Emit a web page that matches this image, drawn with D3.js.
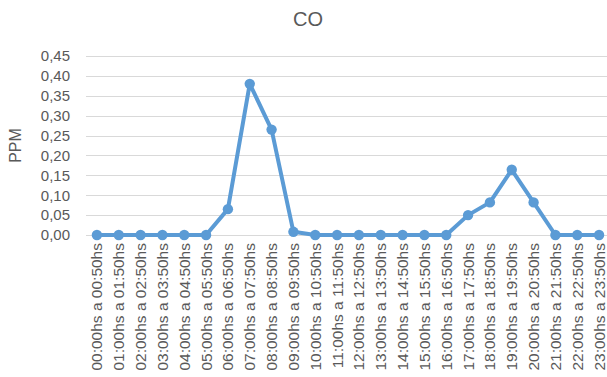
<!DOCTYPE html>
<html>
<head>
<meta charset="utf-8">
<script src="https://cdn.jsdelivr.net/npm/d3@7/dist/d3.min.js"></script>
<style>
  html, body { margin: 0; padding: 0; background: #fff; }
  svg { display: block; font-family: "Liberation Sans", Arial, sans-serif; }
</style>
</head>
<body>
<svg id="chart" width="607" height="377"></svg>
<script>
const categories = [
  "00:00hs a 00:50hs","01:00hs a 01:50hs","02:00hs a 02:50hs","03:00hs a 03:50hs",
  "04:00hs a 04:50hs","05:00hs a 05:50hs","06:00hs a 06:50hs","07:00hs a 07:50hs",
  "08:00hs a 08:50hs","09:00hs a 09:50hs","10:00hs a 10:50hs","11:00hs a 11:50hs",
  "12:00hs a 12:50hs","13:00hs a 13:50hs","14:00hs a 14:50hs","15:00hs a 15:50hs",
  "16:00hs a 16:50hs","17:00hs a 17:50hs","18:00hs a 18:50hs","19:00hs a 19:50hs",
  "20:00hs a 20:50hs","21:00hs a 21:50hs","22:00hs a 22:50hs","23:00hs a 23:50hs"
];
const coValues = [0, 0, 0, 0, 0, 0, 0.065, 0.38, 0.265, 0.008, 0, 0, 0, 0, 0, 0, 0, 0.05, 0.082, 0.164, 0.082, 0, 0, 0];
const yTicks = [0, 0.05, 0.10, 0.15, 0.20, 0.25, 0.30, 0.35, 0.40, 0.45];
const titleText = "CO";
const yAxisTitle = "PPM";

(function () {
const svg = d3.select("#chart");
const W = 607;
const mLeft = 86, mRight = 610, mTop = 56, mBottom = 235;

const x = d3.scaleBand().domain(categories).range([mLeft, mRight]);
const y = d3.scaleLinear().domain([0, 0.45]).range([mBottom, mTop]);
const fmt = v => d3.format(".2f")(v).replace(".", ",");

// gridlines
svg.append("g").selectAll("line").data(yTicks).join("line")
  .attr("x1", mLeft).attr("x2", W)
  .attr("y1", d => Math.round(y(d)) + 0.5).attr("y2", d => Math.round(y(d)) + 0.5)
  .attr("stroke", "#d9d9d9").attr("stroke-width", 1);

// y axis
const yAxis = d3.axisLeft(y).tickValues(yTicks).tickFormat(fmt).tickSize(0).tickPadding(16);
const gy = svg.append("g").attr("transform", `translate(${mLeft},0)`).call(yAxis);
gy.select(".domain").remove();
gy.selectAll("text").attr("fill", "#595959").style("font-size", "15px")
  .style("font-family", "'Liberation Sans', Arial, sans-serif");

// x axis
const xAxis = d3.axisBottom(x).tickSize(0).tickPadding(0);
const gx = svg.append("g").attr("transform", `translate(0,${mBottom})`).call(xAxis);
gx.select(".domain").remove();
gx.selectAll("text")
  .attr("fill", "#595959").style("font-size", "15.5px")
  .style("font-family", "'Liberation Sans', Arial, sans-serif")
  .attr("text-anchor", "end")
  .attr("x", 0).attr("y", 0)
  .attr("dy", "0.35em")
  .attr("transform", "translate(0,8) rotate(-90)");

// line
const cx = d => x(d) + x.bandwidth() / 2;
const line = d3.line().x((d, i) => cx(categories[i])).y(d => y(d));
svg.append("path").datum(coValues)
  .attr("d", line).attr("fill", "none")
  .attr("stroke", "#5b9bd5").attr("stroke-width", 4).attr("stroke-linejoin", "round");

svg.append("g").selectAll("circle").data(coValues).join("circle")
  .attr("cx", (d, i) => cx(categories[i])).attr("cy", d => y(d))
  .attr("r", 5.2).attr("fill", "#5b9bd5");

// title
svg.append("text").attr("x", 308).attr("y", 26).attr("text-anchor", "middle")
  .attr("fill", "#595959").style("font-size", "20px").text(titleText);

// y axis title
svg.append("text").attr("transform", `translate(21,${(mTop + mBottom) / 2}) rotate(-90)`)
  .attr("text-anchor", "middle").attr("fill", "#595959").style("font-size", "16px").text(yAxisTitle);
})();
</script>
</body>
</html>
